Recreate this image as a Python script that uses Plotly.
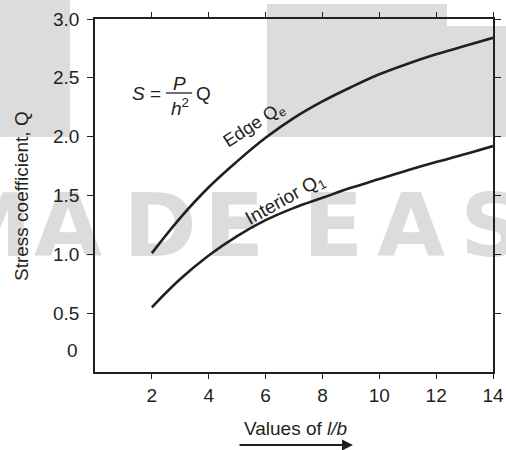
import plotly.graph_objects as go

# ---- data ----
lb_values = [2, 3, 4, 5, 6, 7, 8, 9, 10, 11, 12, 13, 14]
edge_q = [1.01, 1.31, 1.57, 1.79, 1.99, 2.16, 2.30, 2.42, 2.53, 2.62, 2.70, 2.77, 2.84]
interior_q = [0.55, 0.79, 0.99, 1.155, 1.29, 1.395, 1.48, 1.565, 1.64, 1.715, 1.785, 1.85, 1.92]
x_ticks = [2, 4, 6, 8, 10, 12, 14]
y_ticks = [0.5, 1.0, 1.5, 2.0, 2.5, 3.0]
y_ticktext = ["0.5", "1.0", "1.5", "2.0", "2.5", "3.0"]

# watermark letters (decoration, figure pixel positions)
wm_letters = ["M", "A", "D", "E", "E", "A", "S"]
wm_px = [-12, 68, 160, 234, 333, 411, 492]
wm_py = [234] * 7

W, H = 506, 450
L, R, T, B = 95, 13, 19, 78
INK = "#231f20"
GRAY = "#dcdcdc"
FONT = "Liberation Sans, Arial, sans-serif"

fig = go.Figure()

# full-figure pixel axes (x, y) hold the watermark; chart lives on x2/y2
fig.add_trace(go.Scatter(
    x=wm_px, y=wm_py, mode="text", text=wm_letters, xaxis="x", yaxis="y",
    textposition="middle center",
    textfont=dict(family="DejaVu Sans", size=88, color=GRAY, weight="bold"),
    hoverinfo="skip", showlegend=False))

fig.add_trace(go.Scatter(x=lb_values, y=edge_q, mode="lines", xaxis="x2", yaxis="y2",
                         line=dict(color=INK, width=2.6, shape="spline", smoothing=1.1),
                         hoverinfo="skip", showlegend=False))
fig.add_trace(go.Scatter(x=lb_values, y=interior_q, mode="lines", xaxis="x2", yaxis="y2",
                         line=dict(color=INK, width=2.6, shape="spline", smoothing=1.1),
                         hoverinfo="skip", showlegend=False))

def rect(x0, x1, y0, y1):
    return dict(type="rect", xref="x", yref="y", x0=x0, x1=x1, y0=y0, y1=y1,
                fillcolor=GRAY, line=dict(width=0), layer="below")

shapes = [
    rect(0, 70, 0, 137),
    rect(267, 447, 4, 137),
    rect(447, 506, 26, 137),
    # fraction bar of the formula
    dict(type="line", xref="x", yref="y", x0=166, x1=192, y0=93, y1=93,
         line=dict(color=INK, width=1.3)),
]

def ann(text, x, y, size=19, angle=0, **kw):
    return dict(text=text, x=x, y=y, xref="x", yref="y", showarrow=False,
                textangle=angle, font=dict(family=FONT, size=size, color=INK), **kw)

annotations = [
    ann("0", 72, 350),
    ann("Stress coefficient, Q", 21, 196, angle=-90),
    ann("Values of <i>l/b</i>", 295, 428),
    dict(text="", x=353, y=445, xref="x", yref="y", showarrow=True,
         ax=-115, ay=0, arrowhead=2, arrowsize=1.1, arrowwidth=2, arrowcolor=INK),
    # formula S = P/h^2 Q
    ann("<i>S</i> =", 146, 93, size=19),
    ann("<i>P</i>", 179, 83, size=19),
    ann("<i>h</i><sup>2</sup>", 180, 107, size=19),
    ann("Q", 203, 93, size=19),
    # curve labels
    ann("Edge Q<sub>e</sub>", 254, 125, size=18, angle=-33),
    ann("Interior Q<sub>1</sub>", 285, 200, size=19, angle=-29),
]

axis_common = dict(showgrid=False, zeroline=False, fixedrange=True, automargin=False)
tick_common = dict(tickwidth=1.3, tickcolor=INK, showline=True, linecolor=INK,
                   linewidth=1.5, mirror="ticks")
xdom = [L / W, (W - R) / W]
ydom = [B / H, (H - T) / H]

fig.update_layout(
    width=W, height=H,
    margin=dict(l=0, r=0, t=0, b=0, pad=0),
    paper_bgcolor="white", plot_bgcolor="rgba(0,0,0,0)",
    font=dict(family=FONT, size=19, color=INK),
    shapes=shapes, annotations=annotations, showlegend=False,
    xaxis=dict(domain=[0, 1], range=[0, W], visible=False, **axis_common),
    yaxis=dict(domain=[0, 1], range=[H, 0], visible=False, **axis_common),
    xaxis2=dict(domain=xdom, anchor="y2", range=[0, 14], tickvals=x_ticks,
                ticks="outside", ticklen=5,
                tickfont=dict(family=FONT, size=19, color=INK), **tick_common, **axis_common),
    yaxis2=dict(domain=ydom, anchor="x2", range=[0, 3], tickvals=y_ticks,
                ticktext=y_ticktext, ticks="outside", ticklen=6, ticklabelstandoff=4,
                tickfont=dict(family=FONT, size=19, color=INK), **tick_common, **axis_common),
    xaxis3=dict(overlaying="x2", anchor="y2", side="bottom", range=[0, 14],
                tickvals=x_ticks, ticks="inside", ticklen=7, showticklabels=False,
                **tick_common, **axis_common),
    yaxis3=dict(overlaying="y2", anchor="x2", side="left", range=[0, 3],
                tickvals=y_ticks, ticks="inside", ticklen=6, showticklabels=False,
                **tick_common, **axis_common),
)

fig.write_html("out.html", config={"displayModeBar": False},
               post_script="document.body.style.margin='0px';"
                           "document.body.style.overflow='hidden';")
